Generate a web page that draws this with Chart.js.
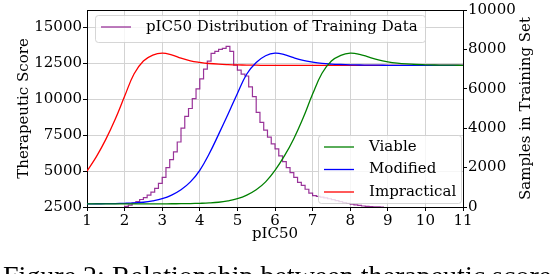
<!DOCTYPE html>
<html lang="en">
<head>
<meta charset="UTF-8" />
<title>pIC50 vs therapeutic score</title>
<script src="https://cdn.jsdelivr.net/npm/chart.js"></script>
<style>
  body { margin: 0; background: #fff; overflow: hidden; }
  .wrap { position: relative; width: 550px; height: 274px; overflow: hidden; }
  canvas { position: absolute; left: 0; top: 0; }
  .caption {
    position: absolute; left: 3px; top: 260px;
    font-family: "Liberation Serif", serif; font-size: 28px;
    white-space: nowrap; color: #000;
  }
</style>
</head>
<body>
<div class="wrap">
  <canvas id="chart" width="550" height="274"></canvas>
  <div class="caption">Figure 2: Relationship between therapeutic score and pIC50</div>
</div>
<script>
  // x grid for the three score curves
  const pic50 = [1, 1.25, 1.5, 1.75, 2, 2.25, 2.5, 2.75, 3, 3.25, 3.5, 3.75, 4, 4.25, 4.5, 4.75,
    5, 5.25, 5.5, 5.75, 6, 6.25, 6.5, 6.75, 7, 7.25, 7.5, 7.75, 8, 8.25, 8.5, 8.75,
    9, 9.25, 9.5, 9.75, 10, 10.25, 10.5, 10.75, 11];

  const viable = [2720, 2720, 2720, 2720, 2720, 2720, 2720, 2720, 2720, 2725, 2730, 2740, 2755, 2780, 2830, 2930,
    3080, 3330, 3700, 4250, 5050, 6050, 7250, 8700, 10350, 11800, 12650, 13050, 13200, 13120, 12920, 12730,
    12600, 12510, 12450, 12410, 12390, 12375, 12365, 12360, 12355];

  const modified = [2720, 2725, 2730, 2740, 2755, 2780, 2830, 2930, 3080, 3330, 3700, 4250, 5050, 6200, 7550, 8950,
    10400, 11750, 12550, 13020, 13200, 13100, 12880, 12700, 12580, 12490, 12440, 12410, 12390, 12375, 12365, 12360,
    12355, 12350, 12350, 12350, 12350, 12350, 12350, 12350, 12350];

  const impractical = [5000, 6000, 7200, 8600, 10200, 11750, 12650, 13060, 13200, 13080, 12850, 12670, 12560, 12480, 12430, 12400,
    12380, 12370, 12360, 12350, 12350, 12350, 12350, 12350, 12350, 12350, 12350, 12350, 12350, 12350, 12350, 12350,
    12350, 12350, 12350, 12350, 12350, 12350, 12350, 12350, 12350];

  // histogram of training pIC50 (bins of 0.1 starting at 2.0)
  const binStart = 2.0;
  const binWidth = 0.1;
  const binCounts = [30, 100, 200, 280, 380, 480, 600, 760, 950, 1200,
    1500, 2000, 2400, 2800, 3300, 4000, 4600, 5000, 5500, 6000,
    6500, 7000, 7400, 7800, 7900, 8000, 8050, 8150, 7900, 7200,
    6950, 6750, 6650, 6100, 5600, 4800, 4300, 3900, 3550, 3200,
    2950, 2600, 2300, 2000, 1750, 1500, 1250, 1100, 900, 700,
    580, 540, 500, 460, 420, 370, 320, 270, 220, 180,
    140, 110, 80, 50, 30, 15, 10, 5, 0];

  const xTicks = [1, 2, 3, 4, 5, 6, 7, 8, 9, 10, 11];
  const scoreTicks = [2500, 5000, 7500, 10000, 12500, 15000];
  const sampleTicks = [0, 2000, 4000, 6000, 8000, 10000];

  const histColor = 'rgba(128, 0, 128, 0.8)';
  const serif = 'DejaVu Serif';

  function toPoints(ys) {
    return ys.map((y, i) => ({ x: pic50[i], y: y }));
  }

  const histPoints = [{ x: binStart, y: 0 }];
  binCounts.forEach((c, i) => histPoints.push({ x: +(binStart + i * binWidth).toFixed(2), y: c }));
  histPoints.push({ x: +(binStart + binCounts.length * binWidth).toFixed(2), y: 0 });

  // frame on top + the two legend boxes + right axis title
  const extras = {
    id: 'extras',
    afterDraw(chart) {
      const { ctx, chartArea: a } = chart;
      ctx.save();
      ctx.strokeStyle = '#000';
      ctx.lineWidth = 1;
      ctx.beginPath();
      ctx.moveTo(a.left, a.top + 0.5);
      ctx.lineTo(a.right, a.top + 0.5);
      ctx.stroke();

      const ds = chart.data.datasets;
      drawLegend(ctx, 95, 15, 330, 27, [ds[3]]);
      drawLegend(ctx, 318, 135, 143, 68, [ds[0], ds[1], ds[2]]);

      ctx.font = '15px "' + serif + '"';
      ctx.fillStyle = '#000';
      ctx.textAlign = 'center';
      ctx.textBaseline = 'middle';
      ctx.translate(526, (a.top + a.bottom) / 2);
      ctx.rotate(-Math.PI / 2);
      ctx.fillText('Samples in Training Set', 0, 0);
      ctx.restore();
    }
  };

  function drawLegend(ctx, x, y, w, h, items) {
    ctx.save();
    ctx.fillStyle = 'rgba(255,255,255,0.8)';
    ctx.strokeStyle = 'rgba(204,204,204,0.8)';
    ctx.lineWidth = 1;
    ctx.beginPath();
    ctx.roundRect(x + 0.5, y + 0.5, w, h, 3);
    ctx.fill();
    ctx.stroke();
    ctx.font = '15px "' + serif + '"';
    ctx.textBaseline = 'middle';
    ctx.textAlign = 'left';
    items.forEach((d, i) => {
      const cy = y + 12 + i * 22.5;
      ctx.strokeStyle = d.borderColor;
      ctx.lineWidth = 1.3;
      ctx.beginPath();
      ctx.moveTo(x + 6, cy);
      ctx.lineTo(x + 36, cy);
      ctx.stroke();
      ctx.fillStyle = '#000';
      ctx.fillText(d.label, x + 51, cy);
    });
    ctx.restore();
  }

  const plain = v => String(v);

  Chart.defaults.color = '#000';
  Chart.defaults.font.family = serif;
  Chart.defaults.font.size = 15;

  new Chart(document.getElementById('chart'), {
    type: 'line',
    data: {
      datasets: [
        { label: 'Viable', data: toPoints(viable), borderColor: 'green', yAxisID: 'y', tension: 0.4 },
        { label: 'Modified', data: toPoints(modified), borderColor: 'blue', yAxisID: 'y', tension: 0.4 },
        { label: 'Impractical', data: toPoints(impractical), borderColor: 'red', yAxisID: 'y', tension: 0.4 },
        { label: 'pIC50 Distribution of Training Data', data: histPoints, borderColor: histColor,
          yAxisID: 'y1', stepped: 'before', borderWidth: 1.2 }
      ]
    },
    options: {
      responsive: false,
      animation: false,
      layout: { padding: { top: 7, bottom: 30, left: 0, right: 0 } },
      elements: { point: { radius: 0 }, line: { borderWidth: 1.3, fill: false } },
      plugins: { legend: { display: false }, tooltip: { enabled: false } },
      scales: {
        x: {
          type: 'linear', min: 1, max: 11,
          afterBuildTicks: s => { s.ticks = xTicks.map(v => ({ value: v })); },
          ticks: { padding: 1, maxRotation: 0, callback: plain },
          grid: { color: '#d3d3d3', tickColor: '#000', tickLength: 4 },
          border: { color: '#000' },
          title: { display: true, text: 'pIC50', padding: { top: 0, bottom: 1 } },
          afterFit: s => { s.height = 37; }
        },
        y: {
          position: 'left', min: 2500, max: 16200,
          afterBuildTicks: s => { s.ticks = scoreTicks.map(v => ({ value: v })); },
          ticks: { padding: 1, callback: plain },
          grid: { color: '#d3d3d3', tickColor: '#000', tickLength: 4 },
          border: { color: '#000' },
          title: { display: true, text: 'Therapeutic Score', padding: { top: 15, bottom: 0 } },
          afterFit: s => { s.width = 87; }
        },
        y1: {
          position: 'right', min: 0, max: 10000,
          afterBuildTicks: s => { s.ticks = sampleTicks.map(v => ({ value: v })); },
          ticks: { padding: 1, callback: plain },
          grid: { drawOnChartArea: false, tickColor: '#000', tickLength: 4 },
          border: { color: '#000' },
          afterFit: s => { s.width = 87; }
        }
      }
    },
    plugins: [extras]
  });
</script>
</body>
</html>
